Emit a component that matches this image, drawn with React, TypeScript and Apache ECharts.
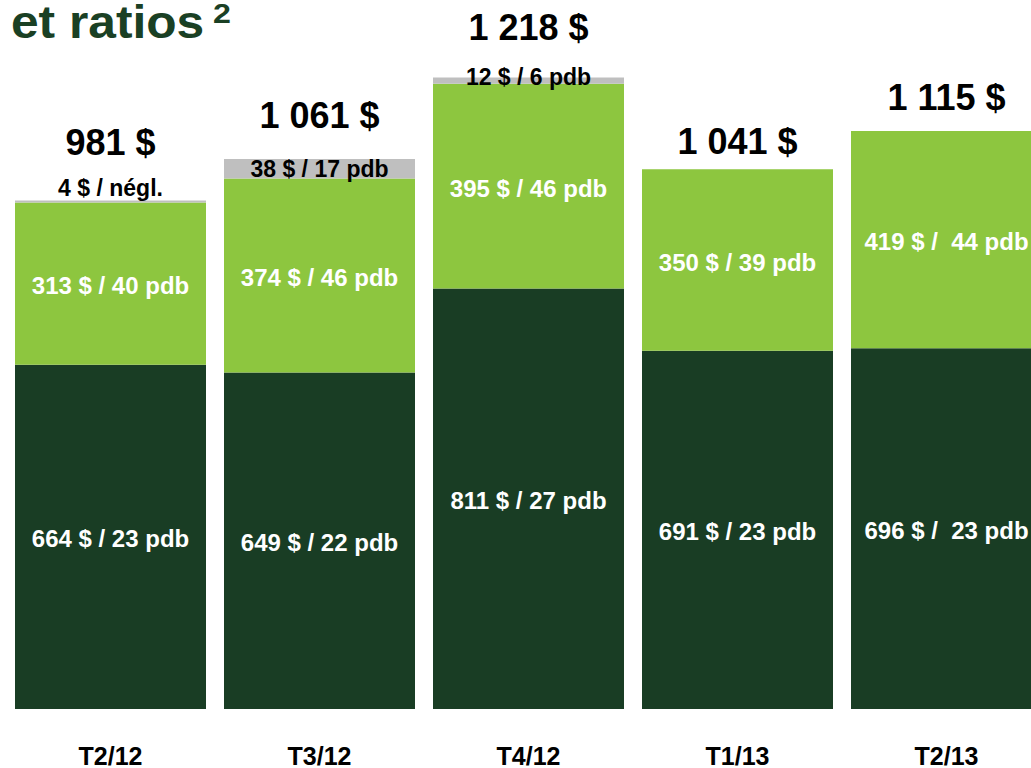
import React, { useEffect, useRef } from "react";
import * as echarts from "echarts";

const categories = ["T2/12", "T3/12", "T4/12", "T1/13", "T2/13"];
const darkValues = [664, 649, 811, 691, 696];
const lightValues = [313, 374, 395, 350, 419];
const grayValues = [4, 38, 12, 0, 0];
const totals = [981, 1061, 1218, 1041, 1115];
const darkLabels = ["664 $ / 23 pdb", "649 $ / 22 pdb", "811 $ / 27 pdb", "691 $ / 23 pdb", "696 $ /  23 pdb"];
const lightLabels = ["313 $ / 40 pdb", "374 $ / 46 pdb", "395 $ / 46 pdb", "350 $ / 39 pdb", "419 $ /  44 pdb"];
const grayLabels = ["4 $ / négl.", "38 $ / 17 pdb", "12 $ / 6 pdb", "", ""];
const totalLabels = ["981 $", "1 061 $", "1 218 $", "1 041 $", "1 115 $"];

const FONT = "'Liberation Sans', Arial, sans-serif";
const DARK = "#193d24";
const LIGHT = "#8dc63f";
const GRAY = "#bfbfbf";

// label placement (styling only)
const totalLift = [58, 43, 50, 28, 33];
const grayLabelStyle: any[] = [
  { position: "top", distance: 1, offset: [0, 0] },
  { position: "inside", distance: 0, offset: [0, 0] },
  { position: "inside", distance: 0, offset: [0, -4] },
  { position: "inside", distance: 0, offset: [0, 0] },
  { position: "inside", distance: 0, offset: [0, 0] },
];

export default function App() {
  const ref = useRef<HTMLDivElement>(null);
  useEffect(() => {
    if (!ref.current) return;
    const chart = echarts.init(ref.current, undefined, { renderer: "svg" });
    const segLabel = {
      show: true,
      position: "inside",
      color: "#ffffff",
      fontFamily: FONT,
      fontWeight: "bold",
      fontSize: 24,
      offset: [0, 2],
    };
    chart.setOption({
      animation: false,
      grid: { left: 6, right: 9, top: 35, bottom: 58, containLabel: false },
      xAxis: {
        type: "category",
        data: categories,
        axisLine: { show: false },
        axisTick: { show: false },
        axisLabel: {
          color: "#000",
          fontFamily: FONT,
          fontWeight: "bold",
          fontSize: 25,
          margin: 34,
        },
      },
      yAxis: {
        type: "value",
        min: 0,
        max: 1300,
        show: false,
        splitLine: { show: false },
      },
      graphic: [
        {
          type: "text",
          x: 11,
          y: 22,
          scaleX: 1.08,
          style: {
            text: "et ratios",
            fill: "#1a4024",
            font: `bold 46px ${FONT}`,
            lineHeight: 38,
            verticalAlign: "middle",
          },
        },
        {
          type: "text",
          x: 213,
          y: 13,
          scaleX: 1.15,
          style: {
            text: "2",
            fill: "#1a4024",
            font: `bold 28px ${FONT}`,
            lineHeight: 22,
            verticalAlign: "middle",
          },
        },
      ],
      series: [
        {
          name: "dark",
          type: "bar",
          stack: "s",
          barWidth: 191,
          itemStyle: { color: DARK },
          label: { ...segLabel, formatter: (p: any) => darkLabels[p.dataIndex] },
          data: darkValues,
        },
        {
          name: "light",
          type: "bar",
          stack: "s",
          barWidth: 191,
          itemStyle: { color: LIGHT },
          label: { ...segLabel, formatter: (p: any) => lightLabels[p.dataIndex] },
          data: lightValues,
        },
        {
          name: "gray",
          type: "bar",
          stack: "s",
          barWidth: 191,
          itemStyle: { color: GRAY },
          data: grayValues.map((v, i) => ({
            value: v,
            label: {
              show: grayLabels[i] !== "",
              color: "#000",
              fontFamily: FONT,
              fontWeight: "bold",
              fontSize: 23,
              formatter: grayLabels[i],
              ...grayLabelStyle[i],
            },
          })),
        },
        {
          name: "total",
          type: "scatter",
          symbolSize: 0,
          silent: true,
          itemStyle: { opacity: 1 },
          data: totals.map((v, i) => ({
            value: v,
            label: {
              show: true,
              position: "inside",
              offset: [0, -totalLift[i]],
              formatter: totalLabels[i],
              color: "#000",
              opacity: 1,
              fontFamily: FONT,
              fontWeight: "bold",
              fontSize: 36,
            },
          })),
        },
      ],
    });
    return () => chart.dispose();
  }, []);
  return (
    <div
      style={{
        position: "absolute",
        left: 0,
        top: 0,
        width: 1031,
        height: 768,
        overflow: "hidden",
        background: "#fff",
      }}
    >
      <div ref={ref} style={{ width: 1060, height: 768 }} />
    </div>
  );
}
